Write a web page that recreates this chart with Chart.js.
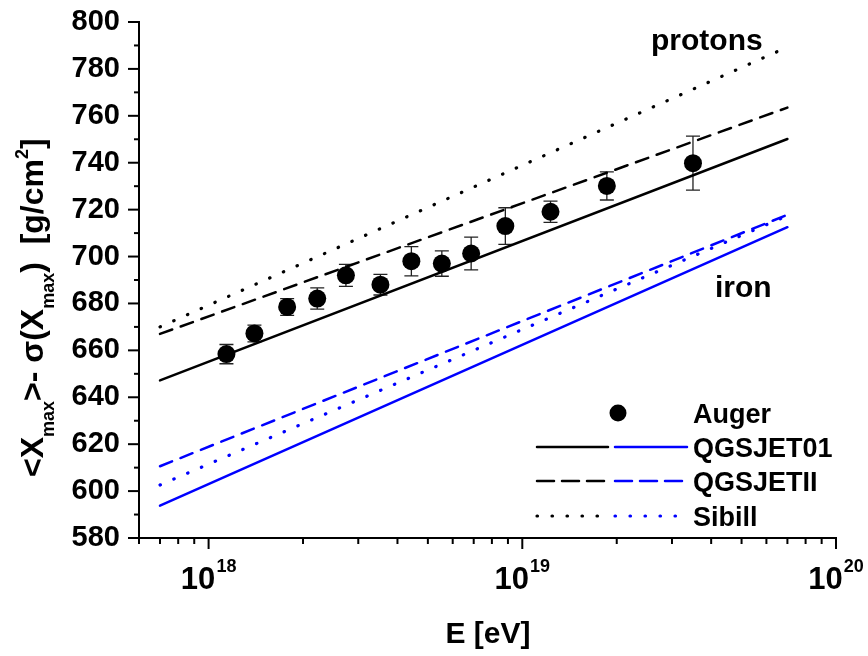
<!DOCTYPE html>
<html>
<head>
<meta charset="utf-8">
<script src="https://cdn.jsdelivr.net/npm/chart.js@4.4.1/dist/chart.umd.min.js"></script>
<style>
  html, body { margin: 0; padding: 0; background: #fff; }
  #wrap { width: 868px; height: 656px; position: relative; }
</style>
</head>
<body>
<div id="wrap"><canvas id="chartXmax"></canvas></div>
<script>
// values
var lineE = [7e17, 7e19];
var protonQGSJET01 = [647.2, 750.1];
var protonQGSJETII = [667.0, 763.5];
var protonSibyll = [670.0, 789.3];
var ironQGSJET01 = [593.8, 712.5];
var ironQGSJETII = [610.6, 717.8];
var ironSibyll = [602.6, 717.4];

var augerE = [1.14e18, 1.40e18, 1.78e18, 2.22e18, 2.74e18, 3.53e18, 4.43e18, 5.54e18, 6.87e18, 8.83e18, 1.23e19, 1.86e19, 3.50e19];
var augerXmax = [658.4, 667.2, 678.5, 682.1, 692.0, 688.0, 698.0, 697.0, 701.3, 713.0, 719.1, 730.1, 739.8];
var augerErr = [4.1, 3.6, 3.6, 4.5, 4.7, 4.4, 6.2, 5.4, 7.0, 7.8, 4.5, 6.0, 11.5];

var yTicks = [580, 600, 620, 640, 660, 680, 700, 720, 740, 760, 780, 800];
var xMajorTicks = [1e18, 1e19, 1e20];
var xTickExp = ['18', '19', '20'];

var FONT = '"Liberation Sans", Arial, sans-serif';
function bold(sz) { return 'bold ' + sz + 'px ' + FONT; }

function pts(xs, ys) {
  return xs.map(function(x, i) { return { x: x, y: ys[i] }; });
}

function lineSet(label, ys, color, dash, width) {
  return {
    label: label,
    data: pts(lineE, ys),
    showLine: true,
    borderColor: color,
    borderWidth: width || 2.5,
    borderDash: dash,
    borderCapStyle: 'round',
    pointRadius: 0,
    fill: false
  };
}

var DASH = [13, 9];
var DOT = [0.5, 14.5];

// error bars under the Auger points
var errorBars = {
  id: 'errorBars',
  beforeDatasetsDraw: function(chart) {
    var ctx = chart.ctx, xs = chart.scales.x, ys = chart.scales.y;
    ctx.save();
    ctx.strokeStyle = '#222';
    ctx.lineWidth = 1.3;
    augerE.forEach(function(e, i) {
      var px = xs.getPixelForValue(e);
      var top = ys.getPixelForValue(augerXmax[i] + augerErr[i]);
      var bot = ys.getPixelForValue(augerXmax[i] - augerErr[i]);
      ctx.beginPath();
      ctx.moveTo(px, top); ctx.lineTo(px, bot);
      ctx.moveTo(px - 7, top); ctx.lineTo(px + 7, top);
      ctx.moveTo(px - 7, bot); ctx.lineTo(px + 7, bot);
      ctx.stroke();
    });
    ctx.restore();
  }
};

// draws pieces of text one after another (for sub/superscripts)
function drawRich(ctx, segs, x, y) {
  var cx = x;
  segs.forEach(function(s) {
    ctx.font = bold(s.size);
    ctx.fillText(s.t, cx, y + (s.dy || 0));
    cx += ctx.measureText(s.t).width;
  });
  return cx - x;
}

function richWidth(ctx, segs) {
  var w = 0;
  segs.forEach(function(s) {
    ctx.font = bold(s.size);
    w += ctx.measureText(s.t).width;
  });
  return w;
}

var axesDeco = {
  id: 'axesDeco',
  afterDraw: function(chart) {
    var ctx = chart.ctx, xs = chart.scales.x, ys = chart.scales.y;
    var area = chart.chartArea;
    ctx.save();
    ctx.strokeStyle = '#000';
    ctx.fillStyle = '#000';
    ctx.lineWidth = 2;

    // y ticks
    yTicks.forEach(function(v, i) {
      var py = ys.getPixelForValue(v);
      ctx.beginPath();
      ctx.moveTo(area.left - 11, py); ctx.lineTo(area.left, py);
      ctx.stroke();
      if (i < yTicks.length - 1) {
        var pm = ys.getPixelForValue(v + 10);
        ctx.beginPath();
        ctx.moveTo(area.left - 5, pm); ctx.lineTo(area.left, pm);
        ctx.stroke();
      }
      ctx.font = bold(29);
      ctx.textAlign = 'right';
      ctx.textBaseline = 'alphabetic';
      ctx.fillText(String(v), area.left - 19, py + 8);
    });

    // x ticks
    for (var d = 17; d <= 19; d++) {
      for (var k = 2; k <= 9; k++) {
        var v = k * Math.pow(10, d);
        if (v < xs.min || v > xs.max) continue;
        var px = xs.getPixelForValue(v);
        ctx.beginPath();
        ctx.moveTo(px, area.bottom); ctx.lineTo(px, area.bottom + 6);
        ctx.stroke();
      }
    }
    ctx.textAlign = 'left';
    xMajorTicks.forEach(function(v, i) {
      var px = xs.getPixelForValue(v);
      ctx.beginPath();
      ctx.moveTo(px, area.bottom); ctx.lineTo(px, area.bottom + 11);
      ctx.stroke();
      var segs = [{ t: '10', size: 31 }, { t: ' ', size: 4 }, { t: xTickExp[i], size: 18, dy: -17 }];
      var w = richWidth(ctx, segs);
      drawRich(ctx, segs, px - w / 2, area.bottom + 51);
    });

    // x title
    ctx.font = bold(30);
    ctx.textAlign = 'center';
    ctx.fillText('E [eV]', 488, 643);

    // y title, rotated
    ctx.save();
    ctx.translate(43, 477);
    ctx.rotate(-Math.PI / 2);
    ctx.textAlign = 'left';
    drawRich(ctx, [
      { t: '<X', size: 32 },
      { t: 'max', size: 18, dy: 11 },
      { t: '>- \u03C3(X', size: 32 },
      { t: 'max', size: 18, dy: 11 },
      { t: ')  [g/cm', size: 32 },
      { t: '2', size: 18, dy: -15 },
      { t: ']', size: 32 }
    ], 0, 0);
    ctx.restore();

    // annotations
    ctx.textAlign = 'left';
    ctx.font = bold(30);
    ctx.fillText('protons', 651, 50);
    ctx.fillText('iron', 715, 297);

    // legend
    var rows = [
      { label: 'Auger', y: 413 },
      { label: 'QGSJET01', y: 447, dash: [], w: 2.5 },
      { label: 'QGSJETII', y: 481, dash: [17, 8], w: 2.5 },
      { label: 'Sibill', y: 516, dash: [0.5, 14.5], w: 3.2 }
    ];
    rows.forEach(function(r, i) {
      if (i === 0) {
        ctx.beginPath();
        ctx.arc(618, r.y, 8.5, 0, Math.PI * 2);
        ctx.fill();
      } else {
        ctx.lineWidth = r.w;
        ctx.lineCap = 'round';
        ctx.setLineDash(r.dash);
        ctx.strokeStyle = '#000';
        ctx.beginPath();
        ctx.moveTo(537, r.y); ctx.lineTo(608, r.y);
        ctx.stroke();
        ctx.strokeStyle = '#0000ff';
        ctx.beginPath();
        ctx.moveTo(615, r.y); ctx.lineTo(687, r.y);
        ctx.stroke();
        ctx.setLineDash([]);
      }
      ctx.font = bold(27);
      ctx.fillStyle = '#000';
      ctx.fillText(r.label, 693, r.y + 10);
    });

    ctx.restore();
  }
};

var config = {
  type: 'scatter',
  data: {
    datasets: [
      lineSet('QGSJET01 p', protonQGSJET01, '#000', []),
      lineSet('QGSJETII p', protonQGSJETII, '#000', DASH),
      lineSet('Sibill p', protonSibyll, '#000', DOT, 3.2),
      lineSet('QGSJET01 Fe', ironQGSJET01, '#0000ff', []),
      lineSet('QGSJETII Fe', ironQGSJETII, '#0000ff', DASH),
      lineSet('Sibill Fe', ironSibyll, '#0000ff', DOT, 3.2),
      {
        label: 'Auger',
        data: pts(augerE, augerXmax),
        pointRadius: 9,
        pointBackgroundColor: '#000',
        pointBorderWidth: 0,
        showLine: false
      }
    ]
  },
  options: {
    responsive: true,
    maintainAspectRatio: false,
    animation: false,
    layout: { padding: { left: 131, top: 22, right: 32, bottom: 110 } },
    plugins: {
      legend: { display: false },
      tooltip: { enabled: false }
    },
    scales: {
      x: {
        type: 'logarithmic',
        min: 6e17,
        max: 1e20,
        grid: { display: false },
        border: { display: true, color: '#000', width: 2 },
        ticks: { display: false }
      },
      y: {
        type: 'linear',
        min: 580,
        max: 800,
        grid: { display: false },
        border: { display: true, color: '#000', width: 2 },
        ticks: { display: false, stepSize: 20 }
      }
    }
  },
  plugins: [errorBars, axesDeco]
};

var ctx = document.getElementById('chartXmax').getContext('2d');
var xmaxChart = new Chart(ctx, config);
</script>
</body>
</html>
